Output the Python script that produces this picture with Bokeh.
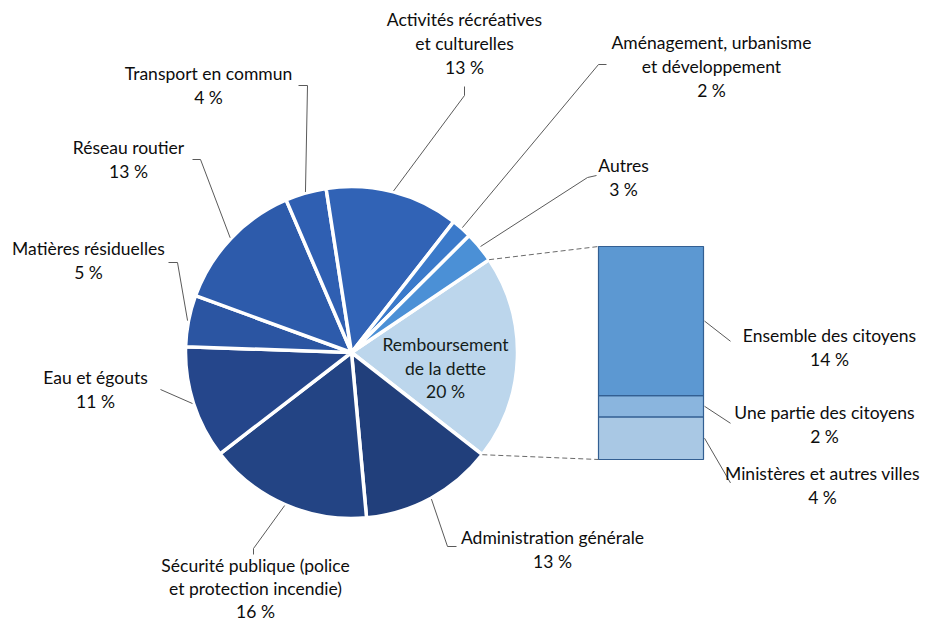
import math
from bokeh.plotting import figure
from bokeh.models import Range1d
from bokeh.embed import file_html
from bokeh.resources import INLINE
from bokeh.core.properties import value

# ---------------- data ----------------
categories = [
    "Remboursement de la dette",
    "Administration générale",
    "Sécurité publique (police et protection incendie)",
    "Eau et égouts",
    "Matières résiduelles",
    "Réseau routier",
    "Transport en commun",
    "Activités récréatives et culturelles",
    "Aménagement, urbanisme et développement",
    "Autres",
]
shares = [20, 13, 16, 11, 5, 13, 4, 13, 2, 3]
label_lines = [
    ["Remboursement", "de la dette"],
    ["Administration générale"],
    ["Sécurité publique (police", "et protection incendie)"],
    ["Eau et égouts"],
    ["Matières résiduelles"],
    ["Réseau routier"],
    ["Transport en commun"],
    ["Activités récréatives", "et culturelles"],
    ["Aménagement, urbanisme", "et développement"],
    ["Autres"],
]
slice_colors = ["#bcd6ec", "#213f7b", "#234484", "#25468b", "#2b55a2",
                "#2d5bab", "#2f5fb2", "#3163b6", "#3b7aca", "#4b90d6"]

debt_parts = ["Ministères et autres villes", "Une partie des citoyens", "Ensemble des citoyens"]
debt_shares = [4, 2, 14]
debt_colors = ["#a9c8e4", "#8ab5de", "#5c98d2"]

# ---------------- layout (page pixels; data y = 631 - pixel y) ----------------
W, H = 925, 623
def Y(py):
    return 631 - py

CX, CY, R = 351, Y(352), 166
START_DEG = 34.0          # upper edge of the debt slice
FONT = value("Lato")
FS = "17.5px"
TXT = "#0d0d0d"
LEAD = "#5a5a5a"

# label anchor: (center x, first line pixel y, line height); leader tail points (pixel)
label_pos = {
    1: (552, 537, 24.0, [(447, 546), (456, 546)]),
    2: (255, 565, 23.0, [(253, 548), (253, 554)]),
    3: (95, 377, 24.0, [(160, 389)]),
    4: (88, 248, 24.0, [(177, 262), (168, 262)]),
    5: (128, 147, 24.0, [(200, 159), (192, 159)]),
    6: (208, 73, 24.0, [(307, 85), (298, 85)]),
    7: (464, 19, 24.0, [(464, 95), (464, 86)]),
    8: (711, 42, 24.0, [(598, 64), (606, 64)]),
    9: (623, 165, 24.0, [(587, 177), (596, 175)]),
}

# bar of pie: pixel box
BAR_X0, BAR_X1 = 598, 703
BAR_TOP_PX, BAR_BOT_PX = 246, 459
bar_px_per_pct = (BAR_BOT_PX - BAR_TOP_PX) / sum(debt_shares)
bar_bottom = Y(BAR_BOT_PX)
bar_label_pos = [(822, 473, -4.2), (824, 412, -1.6), (829, 335, -1.9)]

x0, y0 = 0, Y(H)
p = figure(width=W, height=H, output_backend="svg", toolbar_location=None,
           x_range=Range1d(x0, x0 + W), y_range=Range1d(y0, y0 + H),
           x_axis_type=None, y_axis_type=None, min_border=0)
p.min_border_left = p.min_border_right = p.min_border_top = p.min_border_bottom = 0
p.outline_line_color = None
p.grid.visible = False
p.background_fill_color = "white"
p.border_fill_color = "white"

# extra range for the stacked bar: percent units
lo_pct = -(bar_bottom - y0) / bar_px_per_pct
hi_pct = (y0 + H - bar_bottom) / bar_px_per_pct
p.extra_y_ranges = {"bar": Range1d(lo_pct, hi_pct)}

# ---------------- pie ----------------
starts, ends, mids = [], [], []
cur = math.radians(START_DEG)
for s in shares:
    a = s * 2 * math.pi / 100
    ends.append(cur)
    starts.append(cur - a)
    mids.append(cur - a / 2)
    cur -= a

p.wedge(x=[CX] * len(shares), y=[CY] * len(shares), radius=R,
        start_angle=starts, end_angle=ends, direction="anticlock",
        fill_color=slice_colors, line_color="white", line_width=3.5)

# leader lines
for i, (lx, ly, lh, tail) in label_pos.items():
    m = mids[i]
    xs = [CX + (R + 1) * math.cos(m)] + [t[0] for t in tail]
    ys = [CY + (R + 1) * math.sin(m)] + [Y(t[1]) for t in tail]
    p.line(xs, ys, line_color=LEAD, line_width=1)

# labels
for i, (lx, ly, lh, tail) in label_pos.items():
    lines = label_lines[i] + [f"{shares[i]} %"]
    for k, t in enumerate(lines):
        p.text(x=[lx], y=[Y(ly + k * lh)], text=[t], text_font=FONT,
               text_font_size=FS, text_color=TXT, text_align="center",
               text_baseline="middle")

# debt label inside slice
dl = label_lines[0] + [f"{shares[0]} %"]
for k, t in enumerate(dl):
    p.text(x=[445], y=[Y(344 + k * 23.5)], text=[t], text_font=FONT,
           text_font_size="17.5px", text_color="#14201a", text_align="center",
           text_baseline="middle")

# ---------------- bar of pie ----------------
bottoms, tops = [], []
acc = 0
for v in debt_shares:
    bottoms.append(acc)
    acc += v
    tops.append(acc)
p.quad(left=[BAR_X0] * 3, right=[BAR_X1] * 3, bottom=bottoms, top=tops,
       fill_color=debt_colors, line_color="#335f92", line_width=1.2,
       y_range_name="bar")

# connectors between pie slice and bar
top_edge = ends[0]
bot_edge = starts[0]
bar_top_y = bar_bottom + acc * bar_px_per_pct
p.line([CX + R * math.cos(top_edge), BAR_X0], [CY + R * math.sin(top_edge), bar_top_y],
       line_color="#6a6a6a", line_width=1, line_dash="5 3")
p.line([CX + R * math.cos(bot_edge), BAR_X0], [CY + R * math.sin(bot_edge), bar_bottom],
       line_color="#6a6a6a", line_width=1, line_dash="5 3")

# bar labels and leaders
for j, (lx, ly, dy) in enumerate(bar_label_pos):
    midp = (bottoms[j] + tops[j]) / 2
    p.line([BAR_X1 + 1, BAR_X1 + 27], [midp, midp + dy], line_color=LEAD,
           line_width=1, y_range_name="bar")
    for k, t in enumerate([debt_parts[j], f"{debt_shares[j]} %"]):
        p.text(x=[lx], y=[Y(ly + k * 24.0)], text=[t], text_font=FONT,
               text_font_size=FS, text_color=TXT, text_align="center",
               text_baseline="middle")

open("out.html", "w").write(file_html(p, INLINE))
